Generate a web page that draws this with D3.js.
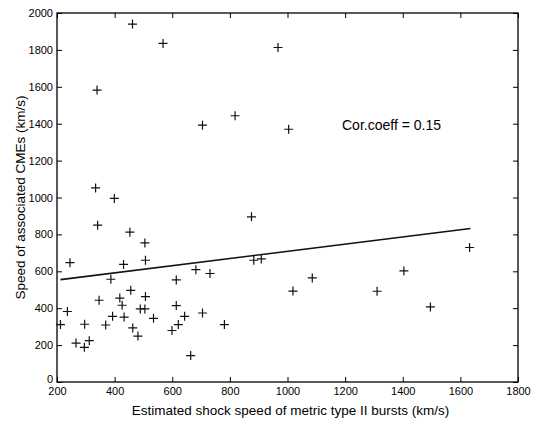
<!DOCTYPE html>
<html lang="en">

<head>
    <meta charset="UTF-8" />
    <title>Shock speed vs CME speed</title>
    <style>
        body { margin: 0; background: #fff; }
        svg { font-family: "Liberation Sans", Arial, sans-serif; }
    </style>
</head>

<body>
    <div id="container"></div>
</body>
<script src="https://cdnjs.cloudflare.com/ajax/libs/d3/7.1.1/d3.min.js"></script>
<script>
    // shock speed (km/s) for each burst
    const shockSpeed = [462, 568, 967, 339, 705, 818, 1004, 334, 399, 875,
        212, 236, 245, 266, 295, 296, 312, 341, 346, 369,
        387, 393, 418, 426, 433, 431, 453, 456, 463, 481,
        489, 505, 505, 507, 507, 535, 599, 614, 614, 621,
        643, 664, 682, 705, 731, 781, 883, 909, 1019, 1086,
        1311, 1404, 1496, 1632]
    // speed of associated CME (km/s)
    const cmeSpeed = [1940, 1835, 1813, 1582, 1392, 1443, 1370, 1052, 995, 895,
        311, 382, 647, 211, 188, 313, 224, 850, 443, 309,
        557, 356, 455, 416, 352, 637, 812, 497, 293, 249,
        396, 396, 754, 660, 463, 345, 279, 553, 414, 311,
        356, 143, 609, 374, 588, 311, 660, 667, 493, 564,
        492, 602, 407, 729]
    // fitted line end points
    const fitX = [212, 1635]
    const fitY = [555, 832]
    const xTicks = [200, 400, 600, 800, 1000, 1200, 1400, 1600, 1800]
    const yTicks = [0, 200, 400, 600, 800, 1000, 1200, 1400, 1600, 1800, 2000]

    let W = 541, H = 429
    let m = { left: 57, right: 23, top: 13, bottom: 47 }
    let iw = W - m.left - m.right, ih = H - m.top - m.bottom

    let x = d3.scaleLinear().domain([200, 1800]).range([0, iw])
    let y = d3.scaleLinear().domain([0, 2000]).range([ih, 0])

    let svg = d3.select('#container').append('svg').attr('width', W).attr('height', H)
    let g = svg.append('g').attr('transform', `translate(${m.left},${m.top})`)

    // axes, ticks point inward like matlab
    let tk = 5
    let fmt = d3.format('d')
    let styleAxis = sel => {
        sel.select('.domain').remove()
        sel.selectAll('line').attr('stroke', '#000').attr('stroke-width', 1)
        sel.selectAll('text').attr('font-size', 11).attr('fill', '#000')
    }
    g.append('g').attr('transform', `translate(0,${ih})`)
        .call(d3.axisBottom(x).tickValues(xTicks).tickFormat(fmt).tickSize(-tk).tickPadding(5))
        .call(styleAxis)
    let yAx = g.append('g')
        .call(d3.axisLeft(y).tickValues(yTicks).tickFormat(fmt).tickSize(-tk).tickPadding(4))
        .call(styleAxis)
    // the 0 label sits just above the 200 label in the original
    yAx.selectAll('text').filter(d => d === 0).attr('dy', '0.05em')
    g.append('g')
        .call(d3.axisTop(x).tickValues(xTicks).tickSize(-tk).tickFormat(''))
        .call(styleAxis)
    g.append('g').attr('transform', `translate(${iw},0)`)
        .call(d3.axisRight(y).tickValues(yTicks).tickSize(-tk).tickFormat(''))
        .call(styleAxis)

    g.append('rect').attr('width', iw).attr('height', ih)
        .attr('fill', 'none').attr('stroke', '#000').attr('stroke-width', 1.3)

    // regression line
    g.append('line')
        .attr('x1', x(fitX[0])).attr('y1', y(fitY[0]))
        .attr('x2', x(fitX[1])).attr('y2', y(fitY[1]))
        .attr('stroke', '#111').attr('stroke-width', 1.6)

    // plus markers
    let pts = shockSpeed.map((v, i) => ({ x: v, y: cmeSpeed[i] }))
    let s = 4.5
    g.selectAll('.pt').data(pts).enter().append('path')
        .attr('class', 'pt')
        .attr('d', d => {
            let px = x(d.x), py = y(d.y)
            return `M${px - s},${py}H${px + s}M${px},${py - s}V${py + s}`
        })
        .attr('stroke', '#111').attr('stroke-width', 1.2).attr('fill', 'none')

    // annotation
    g.append('text').text('Cor.coeff = 0.15')
        .attr('x', 285).attr('y', 117).attr('font-size', 14).attr('fill', '#000')

    // axis titles
    svg.append('text').text('Estimated shock speed of metric type II bursts (km/s)')
        .attr('x', m.left + iw / 2 + 3).attr('y', 415)
        .attr('text-anchor', 'middle').attr('font-size', 13.5).attr('fill', '#000')
    svg.append('text').text('Speed of associated CMEs (km/s)')
        .attr('transform', `translate(25,${m.top + ih / 2}) rotate(-90)`)
        .attr('text-anchor', 'middle').attr('font-size', 13.5).attr('fill', '#000')
</script>

</html>
